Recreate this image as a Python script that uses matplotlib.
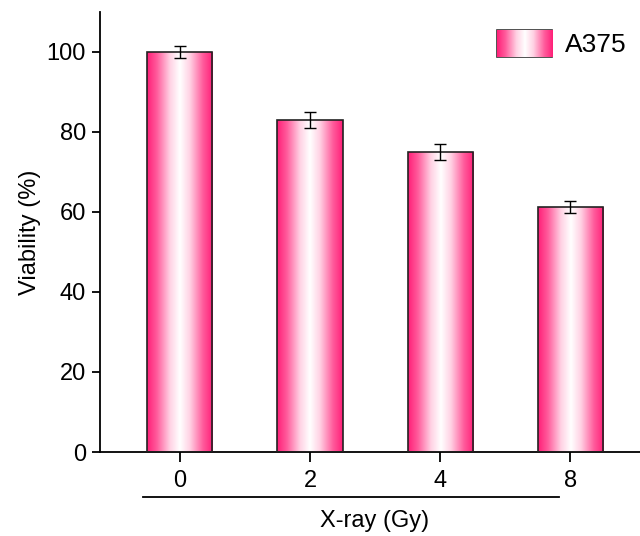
import numpy as np
import matplotlib.pyplot as plt
import matplotlib.transforms as mtransforms
from matplotlib.colors import LinearSegmentedColormap
from matplotlib.image import BboxImage

plt.rcParams['font.family'] = ['Liberation Sans', 'DejaVu Sans']

doses = ['0', '2', '4', '8']
viability = [100, 83, 75, 61.3]
errors = [1.5, 2.0, 2.0, 1.5]
series_name = 'A375'

pink = '#FF1F78'
cmap = LinearSegmentedColormap.from_list(
    'pinkwhite', [(0, pink), (0.15, '#FF5C9C'), (0.35, '#FFD2E4'), (0.5, 'white'),
                  (0.65, '#FFD2E4'), (0.85, '#FF5C9C'), (1, pink)])
grad = np.linspace(0, 1, 256).reshape(1, -1)

fig = plt.figure(figsize=(6.4, 5.36), dpi=100)
ax = fig.add_axes([0.156, 0.1567, 0.857, 0.821])

x = np.arange(len(doses))
bars = ax.bar(x, viability, width=0.5, facecolor='none', edgecolor='#222222',
              linewidth=1.2, zorder=3)
for b in bars:
    im = ax.imshow(grad, cmap=cmap, aspect='auto', zorder=2,
                   extent=[b.get_x(), b.get_x() + b.get_width(), 0, b.get_height()])
    im.set_clip_path(b)

ax.errorbar(x, viability, yerr=errors, fmt='none', ecolor='black',
            elinewidth=1.0, capsize=4, capthick=1.0, zorder=4)

ax.set_xlim(-0.615, 3.6)
ax.set_ylim(0, 110)
ax.set_xticks(x)
ax.set_xticklabels(doses)
ax.set_yticks(range(0, 101, 20))
ax.tick_params(axis='both', labelsize=17, direction='out', width=1.3)
ax.tick_params(axis='y', length=6, pad=4)
ax.tick_params(axis='x', length=7, pad=6)
for s in ['top', 'right']:
    ax.spines[s].set_visible(False)
for s in ['left', 'bottom']:
    ax.spines[s].set_linewidth(1.3)

ax.set_ylabel('Viability (%)', fontsize=17, labelpad=4)
ax.set_xlabel('X-ray (Gy)', fontsize=17, labelpad=13)

# bracket line under the tick labels
offset = mtransforms.ScaledTranslation(0, -45 / 100, fig.dpi_scale_trans)
ax.plot([-0.285, 2.91], [0, 0], color='black', lw=1.3, clip_on=False,
        transform=ax.get_xaxis_transform() + offset)

leg_patch = plt.Rectangle((0, 0), 1, 1, facecolor='none', edgecolor='#333333', lw=1.2)
leg = ax.legend([leg_patch], [series_name], loc='upper right', bbox_to_anchor=(1.004, 1.012),
                frameon=False, fontsize=19, handlelength=2.1, handleheight=1.15,
                handletextpad=0.5)
fig.canvas.draw()
h = leg.legend_handles[0]
bb = h.get_window_extent(fig.canvas.get_renderer())
bim = BboxImage(mtransforms.TransformedBbox(mtransforms.Bbox.from_extents(0, 0, 1, 1),
                                            mtransforms.BboxTransformTo(bb)),
                cmap=cmap, interpolation='bilinear', zorder=1)
bim.set_data(grad)
fig.add_artist(bim)

fig.savefig('out.png', dpi=100)
